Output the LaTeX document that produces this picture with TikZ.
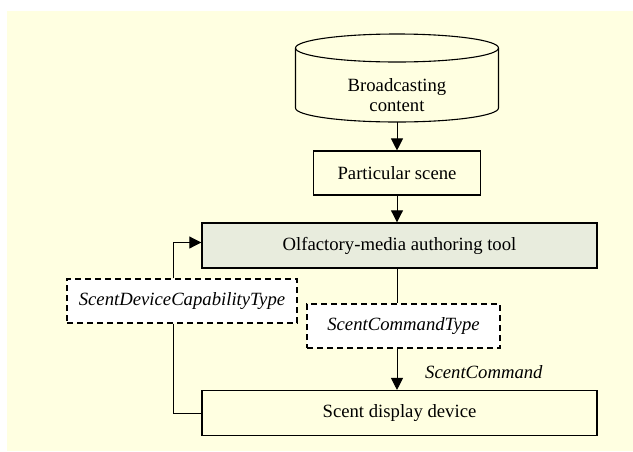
\documentclass[tikz,border=0pt]{standalone}
\usepackage{fontspec}
\setmainfont{Liberation Serif}
\usetikzlibrary{arrows.meta}

\definecolor{bgyellow}{RGB}{255,255,225}
\definecolor{toolgreen}{RGB}{232,236,221}

\begin{document}
\begin{tikzpicture} [x = 1pt, y = -1pt,
  font = \fontsize{18.7}{20}\selectfont,
  box/.style = {draw, line width = 1.1pt, inner sep = 0pt},
  dbox/.style = {box, fill = white, line width = 1.4pt, dash pattern = on 6pt off 4pt},
  arr/.style = {line width = 1pt, -{Triangle[length = 12pt, width = 12pt]}}]
\useasboundingbox (0, 0) rectangle (633, 451);
\fill[bgyellow] (7, 11) rectangle (633, 451);
% broadcasting store
\draw[line width = 1.1pt] (397, 48) ellipse [x radius = 101.5pt, y radius = 14pt];
\draw[line width = 1.1pt] (295.5, 48) -- (295.5, 108) arc[start angle = 180, end angle = 360, x radius = 101.5pt, y radius = 14pt] -- (498.5, 48);
\node[align = center] (content) at (397, 95) {Broadcasting\\content};
\coordinate (cbot) at (397, 122);
\node[box, minimum width = 167pt, minimum height = 44pt] (scene) at (397, 173) {Particular scene};
\node[box, fill = toolgreen, line width = 1.4pt, minimum width = 395pt, minimum height = 45pt] (tool) at (399.5, 245.5) {Olfactory-media authoring tool};
\node[dbox, minimum width = 230pt, minimum height = 44pt] (capab) at (182, 301) {\itshape ScentDeviceCapabilityType};
\node[dbox, minimum width = 193pt, minimum height = 44pt] (cmdtype) at (403.5, 326) {\itshape ScentCommandType};
\node[box, minimum width = 395pt, minimum height = 45pt] (display) at (399.5, 413) {Scent display device};
\node[right, inner sep = 0pt] (cmd) at (425, 372) {\itshape ScentCommand};
\draw[arr] (cbot) -- (scene.north);
\draw[arr] (scene.south) -- (scene.south |- tool.north);
\draw[line width = 1pt] (scene.south |- tool.south) -- (scene.south |- cmdtype.north);
\draw[arr] (scene.south |- cmdtype.south) -- (scene.south |- display.north);
\draw[arr] ([xshift = -9pt]capab.north) |- ([yshift = 3pt]tool.west);
\draw[line width = 1pt] ([xshift = -9pt]capab.south) |- (display.west);
\end{tikzpicture}
\end{document}
